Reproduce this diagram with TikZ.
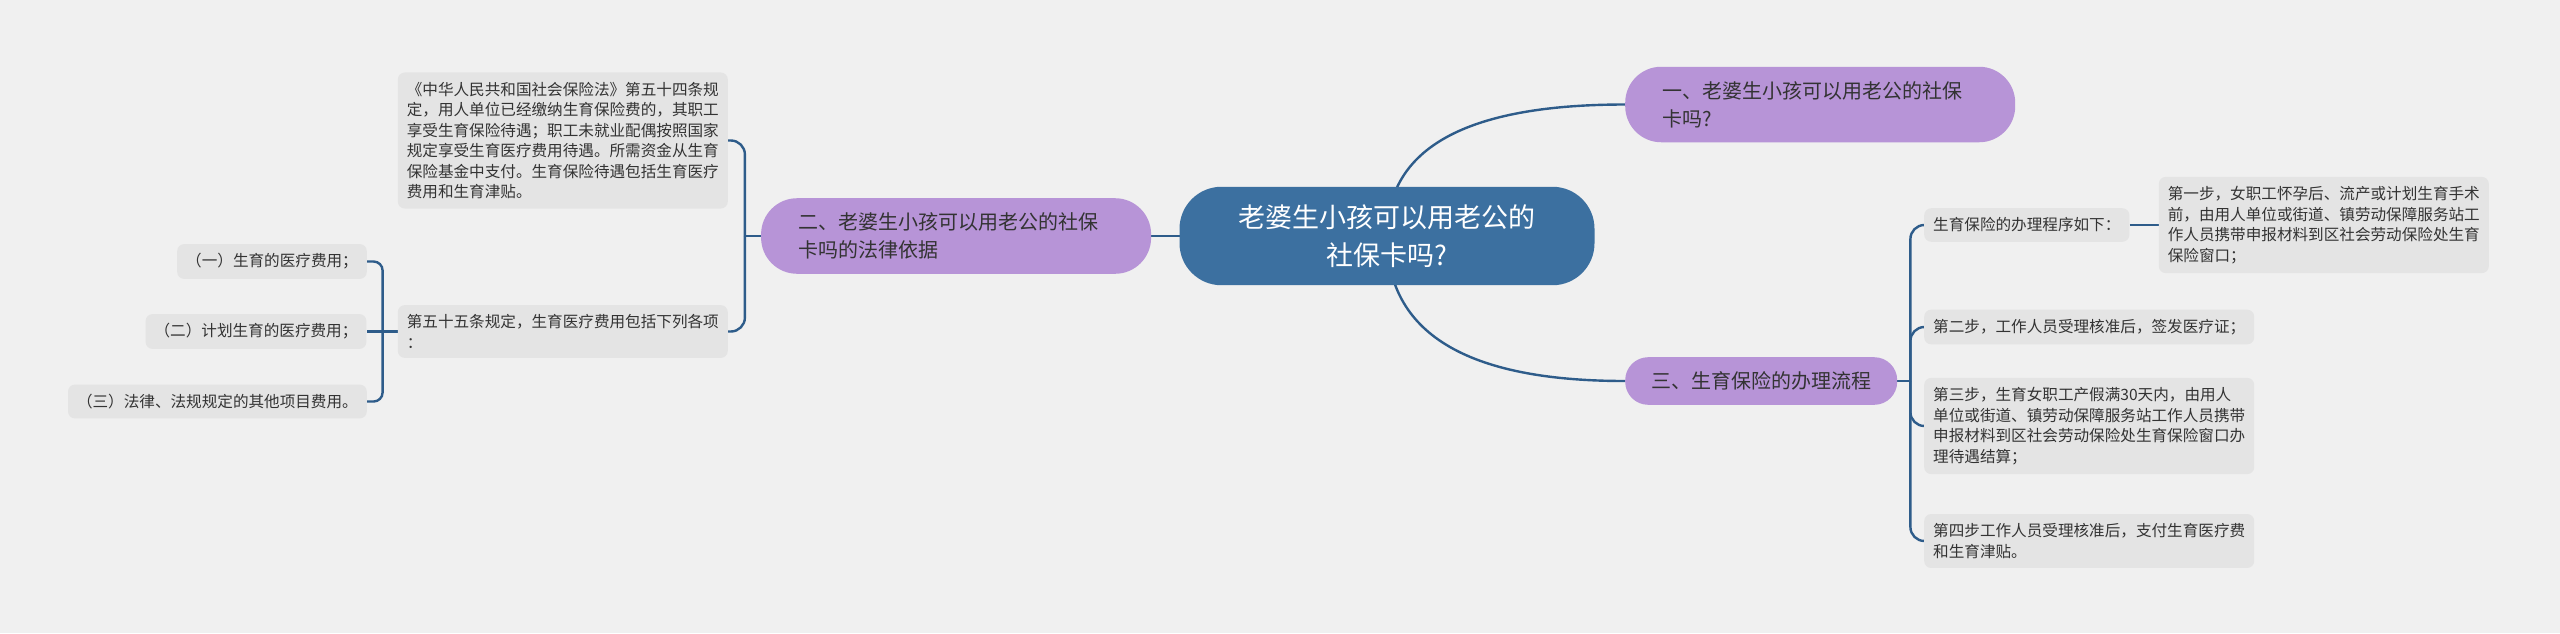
\documentclass[tikz,border=0pt]{standalone}
\usepackage{fontspec}
\setmainfont{Noto Sans CJK SC}
\usepackage{xcolor}
\usepackage{tikz}
\usetikzlibrary{positioning,backgrounds}
\definecolor{paper}{HTML}{F0F0F0}
\definecolor{rootblue}{HTML}{3C70A0}
\definecolor{lilac}{HTML}{B794D7}
\definecolor{leafgray}{HTML}{E4E4E4}
\definecolor{ink}{HTML}{333333}
\definecolor{wire}{HTML}{2E5C8A}

\begin{document}
\begin{tikzpicture}[x=1pt,y=1pt,
  root/.style={fill=rootblue,rounded corners=42pt,align=center,text=white,
               inner xsep=59pt,inner ysep=18pt,font=\fontsize{27}{37.5}\selectfont},
  topic/.style={fill=lilac,rounded corners=23pt,align=left,text=ink,
                inner xsep=26pt,inner ysep=14.5pt,font=\fontsize{20}{28}\selectfont},
  widetopic/.style={topic,rounded corners=36pt,inner xsep=37pt,text width=316pt},
  leaf/.style={fill=leafgray,rounded corners=7pt,align=left,text=ink,
               inner xsep=9pt,inner ysep=9.5pt,font=\fontsize{15.6}{20.5}\selectfont},
  link/.style={draw=wire,line width=2.4pt},
  elbow/.style={link,rounded corners=14pt}
]
\useasboundingbox (0,0) rectangle (2560,-633);
% centre and first level
\node[root] (root) at (1387,-236) {老婆生小孩可以用老公的\\社保卡吗?};
\node[widetopic,left=28pt of root] (basis) {二、老婆生小孩可以用老公的社保\\卡吗的法律依据};
\node[widetopic,anchor=west] (canuse) at (1625,-104.5) {一、老婆生小孩可以用老公的社保\\卡吗?};
\node[topic,anchor=west] (flow) at (1625,-381) {三、生育保险的办理流程};
% left side
\node[leaf,anchor=east] (art54) at (728,-140.5) {《中华人民共和国社会保险法》第五十四条规\\定，用人单位已经缴纳生育保险费的，其职工\\享受生育保险待遇；职工未就业配偶按照国家\\规定享受生育医疗费用待遇。所需资金从生育\\保险基金中支付。生育保险待遇包括生育医疗\\费用和生育津贴。};
\node[leaf,anchor=east] (art55) at (728,-331.5) {第五十五条规定，生育医疗费用包括下列各项\\：};
\node[leaf,left=31pt of art55] (plan) {（二）计划生育的医疗费用；};
\node[leaf,anchor=east] (med) at (367,-261.5) {（一）生育的医疗费用；};
\node[leaf,anchor=east] (other) at (367,-401.5) {（三）法律、法规规定的其他项目费用。};
% right side
\node[leaf,anchor=west] (proc) at (1924,-225) {生育保险的办理程序如下：};
\node[leaf,right=29pt of proc] (step1) {第一步，女职工怀孕后、流产或计划生育手术\\前，由用人单位或街道、镇劳动保障服务站工\\作人员携带申报材料到区社会劳动保险处生育\\保险窗口；};
\node[leaf,anchor=west] (step2) at (1924,-327) {第二步，工作人员受理核准后，签发医疗证；};
\node[leaf,anchor=west] (step3) at (1924,-426) {第三步，生育女职工产假满30天内，由用人\\单位或街道、镇劳动保障服务站工作人员携带\\申报材料到区社会劳动保险处生育保险窗口办\\理待遇结算；};
\node[leaf,anchor=west] (step4) at (1924,-541) {第四步工作人员受理核准后，支付生育医疗费\\和生育津贴。};
\coordinate (basis-j) at ([xshift=-16pt]basis.west);
\coordinate (art55-j) at ([xshift=-15pt]art55.west);
\coordinate (flow-j) at ([xshift=13pt]flow.east);
\begin{scope}[on background layer]
\fill[paper] (0,0) rectangle (2560,-633);
\draw[link] (root.center) -- (basis.center);
\draw[link] (root.center) to[out=90,in=180,out distance=88pt,in distance=159pt] (canuse.west);
\draw[link] (root.center) to[out=-90,in=180,out distance=97pt,in distance=159pt] (flow.west);
\draw[link] (basis.west) -- (basis-j);
\draw[elbow] (basis-j) |- (art54.east);
\draw[elbow] (basis-j) |- (art55.east);
\draw[link] (art55.west) -- (plan.east);
\draw[elbow,rounded corners=9pt] (art55-j) |- (med.east);
\draw[elbow,rounded corners=9pt] (art55-j) |- (other.east);
\draw[link] (flow.east) -- (flow-j);
\draw[elbow] (flow-j) |- (proc.west);
\draw[elbow] (flow-j) |- (step2.west);
\draw[elbow] (flow-j) |- (step3.west);
\draw[elbow] (flow-j) |- (step4.west);
\draw[link] (proc) -- (step1);
\end{scope}
\end{tikzpicture}
\end{document}
